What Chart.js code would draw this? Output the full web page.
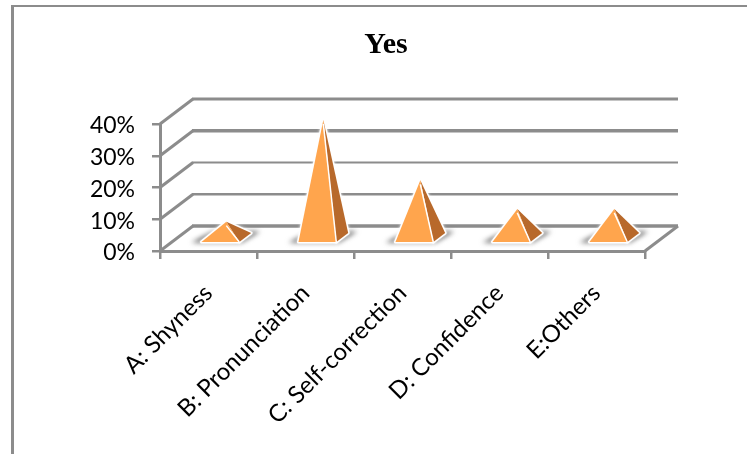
<!DOCTYPE html>
<html>
<head>
<meta charset="utf-8">
<title>Yes</title>
<script src="https://cdn.jsdelivr.net/npm/chart.js@4/dist/chart.umd.min.js"></script>
<style>
  html, body { margin: 0; padding: 0; background: #fff; }
  #wrap { width: 747px; height: 454px; position: relative; overflow: hidden; }
  /* only the top and left edges of the outer frame are visible */
  #frameTop { position: absolute; left: 11px; top: 5px; right: 0; height: 2px; background: #8c8c8c; }
  #frameLeft { position: absolute; left: 11px; top: 5px; bottom: 0; width: 3px; background: #8c8c8c; }
  canvas { position: absolute; left: 0; top: 0; }
</style>
</head>
<body>
<div id="wrap">
  <div id="frameTop"></div>
  <div id="frameLeft"></div>
  <canvas id="pyramidChart" width="747" height="454"></canvas>
</div>
<script>
const categories = ["A: Shyness", "B: Pronunciation", "C: Self-correction", "D: Confidence", "E:Others"];
const yesValues = [5, 37, 18, 9, 9];
const yTicks = [0, 10, 20, 30, 40];

// oblique projection of the box
const DEPTH_X = 33;
const DEPTH_Y = 25;
const AXIS_GREY = "#8c8c8c";

// thick back lines at 0, 30 and 40, the others come out thinner
const gridWidths = { 0: 3.5, 10: 2.5, 20: 2, 30: 3.5, 40: 3 };

const box3d = {
    id: "box3d",
    afterLayout(chart) {
        // centre the title over the box, not over the whole left gutter
        chart.titleBlock.left = chart.chartArea.left - DEPTH_X;
    },
    beforeDatasetsDraw(chart) {
        const { ctx, chartArea, scales } = chart;
        const y = scales.y;
        ctx.save();
        ctx.strokeStyle = AXIS_GREY;
        yTicks.forEach((t) => {
            const py = y.getPixelForValue(t);
            // side wall
            ctx.lineWidth = 3;
            ctx.beginPath();
            ctx.moveTo(chartArea.left, py);
            ctx.lineTo(chartArea.left + DEPTH_X, py - DEPTH_Y);
            ctx.stroke();
            // back wall
            ctx.lineWidth = gridWidths[t];
            ctx.beginPath();
            ctx.moveTo(chartArea.left + DEPTH_X - 1, py - DEPTH_Y);
            ctx.lineTo(chartArea.right + DEPTH_X, py - DEPTH_Y);
            ctx.stroke();
        });
        // right edge of the floor
        const floor = y.getPixelForValue(0);
        ctx.lineWidth = 3;
        ctx.beginPath();
        ctx.moveTo(chartArea.right, floor);
        ctx.lineTo(chartArea.right + DEPTH_X, floor - DEPTH_Y);
        ctx.stroke();
        ctx.restore();
    },
    afterDatasetsDraw(chart) {
        const { ctx } = chart;
        const floor = chart.scales.y.getPixelForValue(0);
        chart.getDatasetMeta(0).data.forEach((bar) => {
            drawPyramid(ctx, bar.x, bar.y, floor, bar.width);
        });
    }
};

function drawPyramid(ctx, cx, top, floor, width) {
    const half = width / 2;
    // base sits between 36% and 72% of the floor depth
    const frontX = cx + DEPTH_X * 0.36, frontY = floor - DEPTH_Y * 0.36;
    const backX = cx + DEPTH_X * 0.72, backY = floor - DEPTH_Y * 0.72;
    const apexX = cx + DEPTH_X * 0.54;
    const apexY = top - DEPTH_Y * 0.54;

    const rightFace = () => {
        ctx.beginPath();
        ctx.moveTo(apexX, apexY);
        ctx.lineTo(frontX + half, frontY);
        ctx.lineTo(backX + half, backY);
        ctx.closePath();
    };
    const frontFace = () => {
        ctx.beginPath();
        ctx.moveTo(apexX, apexY);
        ctx.lineTo(frontX - half, frontY);
        ctx.lineTo(frontX + half, frontY);
        ctx.closePath();
    };

    // soft shadow on the floor
    ctx.save();
    ctx.filter = "blur(2.5px)";
    ctx.fillStyle = "#5e5e5e";
    ctx.beginPath();
    ctx.moveTo(frontX - half - 10, frontY + 0.5);
    ctx.lineTo(frontX + half + 2, frontY + 0.5);
    ctx.lineTo(backX + half + 9, backY - 1.5);
    ctx.lineTo(backX - half, backY - 1.5);
    ctx.closePath();
    ctx.fill();
    ctx.restore();

    // white rim first so the fills keep the narrow tip orange
    ctx.save();
    ctx.lineJoin = "round";
    ctx.strokeStyle = "#fff";
    ctx.lineWidth = 3;
    ctx.shadowColor = "rgba(255,255,255,0.9)";
    ctx.shadowBlur = 3;
    rightFace();
    ctx.stroke();
    frontFace();
    ctx.stroke();
    ctx.restore();

    ctx.fillStyle = "#b8692b";
    rightFace();
    ctx.fill();
    ctx.fillStyle = "#ffa54d";
    frontFace();
    ctx.fill();

    // ridge between the two faces
    ctx.strokeStyle = "#fff";
    ctx.lineWidth = 1.5;
    ctx.beginPath();
    ctx.moveTo(apexX, apexY + 4);
    ctx.lineTo(frontX + half, frontY);
    ctx.stroke();
}

new Chart(document.getElementById("pyramidChart"), {
    type: "bar",
    data: {
        labels: categories,
        datasets: [{
            label: "Yes",
            data: yesValues,
            // the visible pyramid is drawn by the plugin on top of these
            backgroundColor: "rgba(0,0,0,0)",
            barPercentage: 0.78,
            categoryPercentage: 0.5
        }]
    },
    options: {
        responsive: false,
        animation: false,
        layout: { padding: { top: 0, right: 102, left: 0, bottom: 0 } },
        plugins: {
            legend: { display: false },
            tooltip: { enabled: false },
            title: {
                display: true,
                text: "Yes",
                color: "#000",
                font: { family: "'Liberation Serif'", size: 30, weight: "bold" },
                padding: { top: 27, bottom: 61 }
            }
        },
        scales: {
            x: {
                grid: { drawOnChartArea: false, color: AXIS_GREY, lineWidth: 2.5, tickLength: 8 },
                border: { color: AXIS_GREY, width: 3 },
                ticks: {
                    color: "#000",
                    font: { family: "Lato", size: 24 },
                    maxRotation: 45,
                    minRotation: 45,
                    padding: 20,
                    labelOffset: 0
                },
                afterFit: (scale) => { scale.height = 454 - 251; }
            },
            y: {
                min: 0,
                max: 40,
                grid: { drawOnChartArea: false, color: AXIS_GREY, lineWidth: 2.5, tickLength: 8 },
                border: { color: AXIS_GREY, width: 3 },
                ticks: {
                    stepSize: 10,
                    autoSkip: false,
                    color: "#000",
                    font: { family: "Lato", size: 23 },
                    padding: 17,
                    labelOffset: 2,
                    callback: (v) => v + "%"
                },
                afterFit: (scale) => { scale.width = 160; }
            }
        }
    },
    plugins: [box3d]
});
</script>
</body>
</html>
